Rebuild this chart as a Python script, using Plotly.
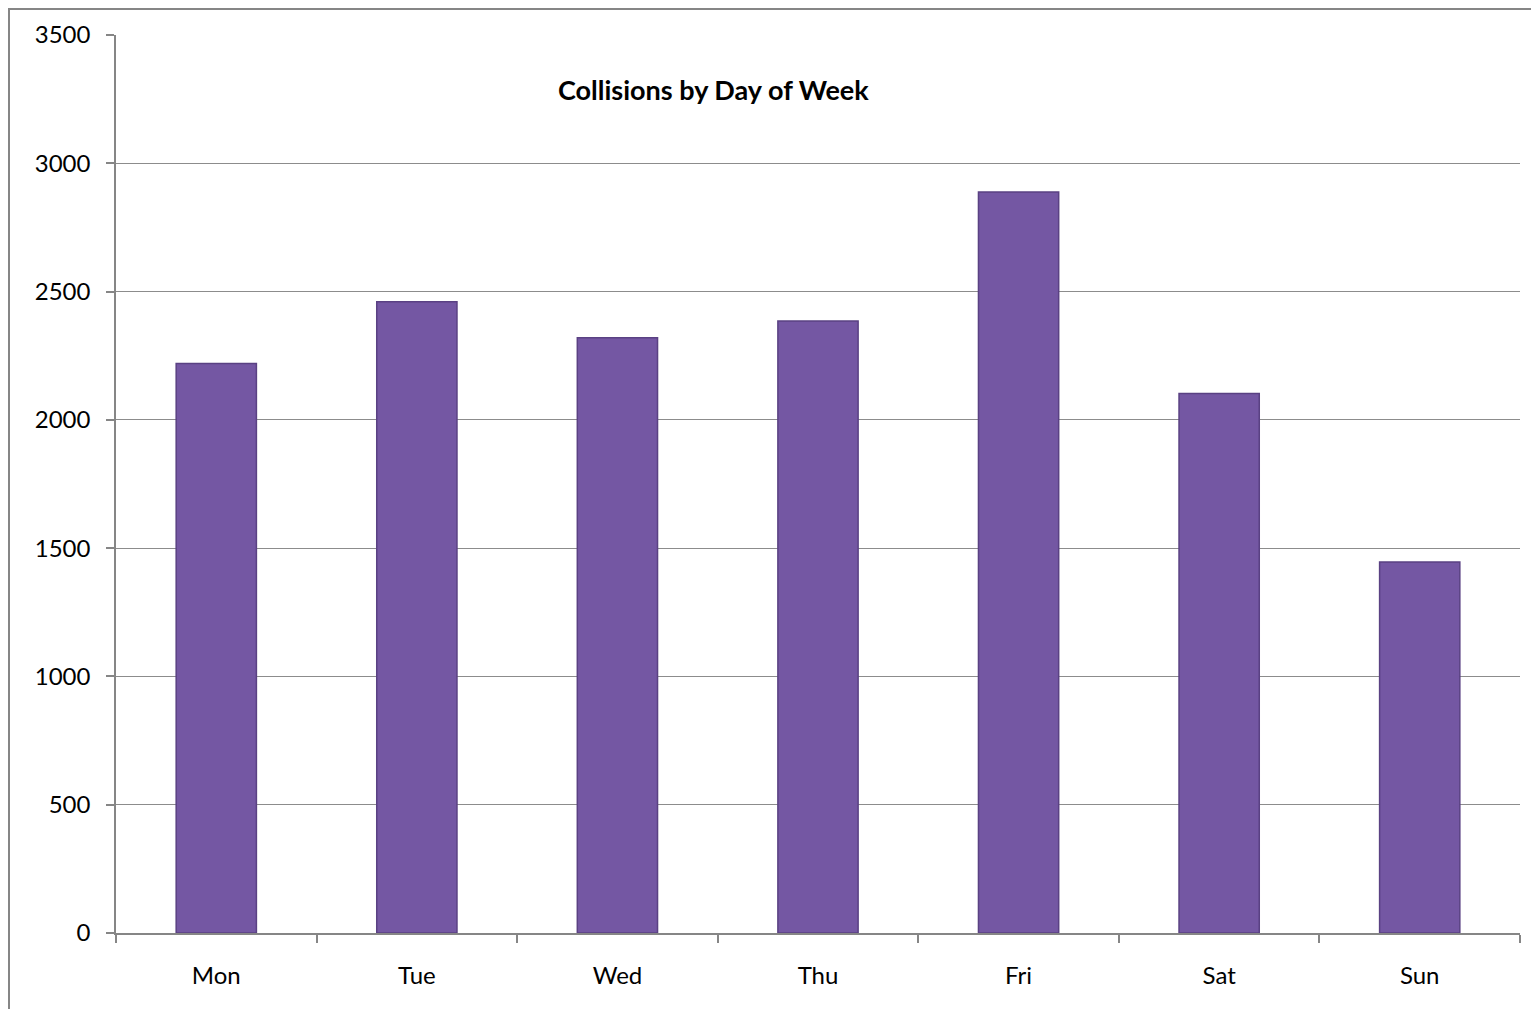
import plotly.graph_objects as go

days = ["Mon", "Tue", "Wed", "Thu", "Fri", "Sat", "Sun"]
collisions = [2220, 2460, 2320, 2385, 2888, 2103, 1446]
y_ticks = [0, 500, 1000, 1500, 2000, 2500, 3000, 3500]
title_text = "Collisions by Day of Week"

# page body adds an 8px offset; size the figure so the plot area lands as in the reference
W, H = 1523, 1001
L, R, T, B = 108, 11, 27, 76
pw, ph = W - L - R, H - T - B

fig = go.Figure()
fig.add_trace(go.Bar(
    x=days, y=collisions,
    marker=dict(color="#7457a3", line=dict(color="#5a4183", width=1.5)),
    width=0.4,
))

fig.update_layout(
    width=W, height=H,
    margin=dict(l=L, r=R, t=T, b=B),
    paper_bgcolor="white", plot_bgcolor="white",
    showlegend=False,
    font=dict(family="Lato, 'Open Sans', sans-serif", size=24, color="#000"),
    xaxis=dict(
        showline=True, linecolor="#868686", linewidth=1.5,
        ticks="outside", tickson="boundaries", ticklen=8, tickcolor="#868686", tickwidth=1.5,
        showgrid=False, tickfont=dict(size=24), ticklabelstandoff=20,
    ),
    yaxis=dict(
        range=[0, 3500], tickvals=y_ticks,
        showline=True, linecolor="#868686", linewidth=1.5,
        ticks="outside", ticklen=8, tickcolor="#868686", tickwidth=1.5,
        showgrid=True, gridcolor="#8c8c8c", gridwidth=1,
        zeroline=False, tickfont=dict(size=24), ticklabelstandoff=11,
    ),
    annotations=[dict(
        text="<b>" + title_text + "</b>", xref="paper", yref="paper",
        x=(705 - L) / pw, y=1 - (81 - T) / ph, xanchor="center", yanchor="middle",
        showarrow=False, font=dict(size=27, family="Lato, sans-serif", color="#000"),
    )],
    shapes=[dict(
        type="rect", xref="paper", yref="paper",
        x0=(1 - L) / pw, x1=(W + 5 - L) / pw,
        y0=1 - (H + 5 - T) / ph, y1=1 - (1 - T) / ph,
        line=dict(color="#868686", width=2), fillcolor="rgba(0,0,0,0)", layer="below",
    )],
)

fig.write_html("out.html")
